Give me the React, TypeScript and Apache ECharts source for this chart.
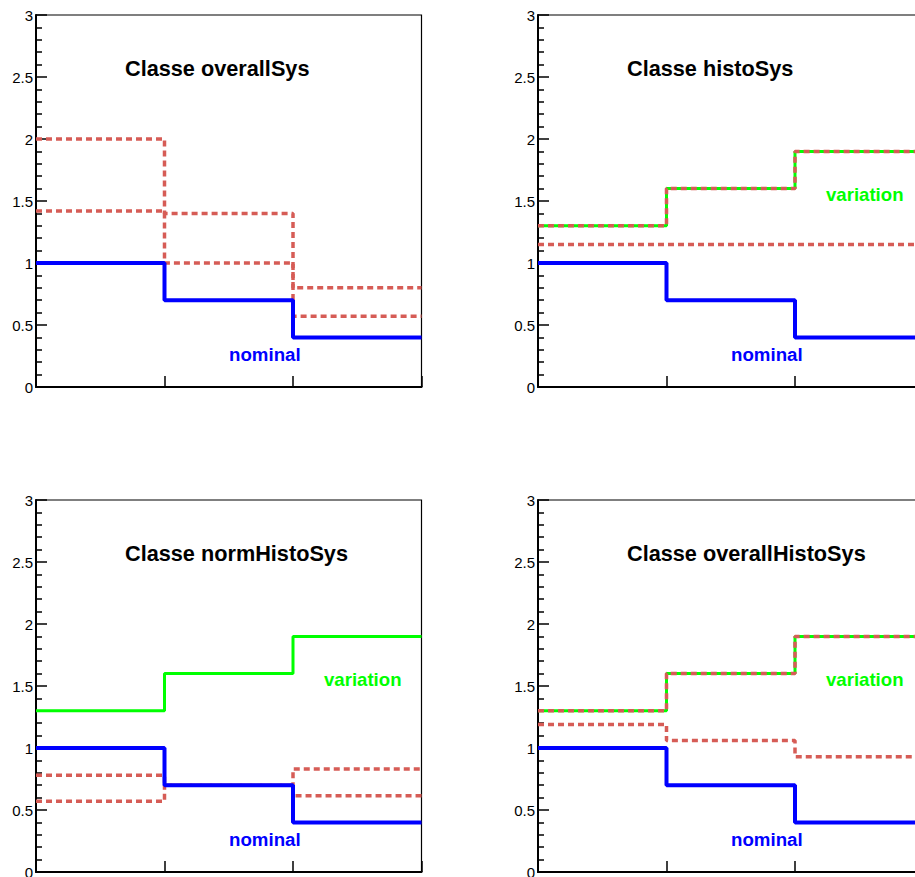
import React, { useEffect, useRef } from "react";
import * as echarts from "echarts";

const binEdges = [0, 1, 2, 3];
const yTicks = [0, 0.5, 1, 1.5, 2, 2.5, 3];
const nominal = [1.0, 0.7, 0.4];
const variation = [1.3, 1.6, 1.9];
const overallSysUp = [2.0, 1.4, 0.8];
const overallSysDown = [1.42, 1.0, 0.57];
const histoSysUp = [1.3, 1.6, 1.9];
const histoSysDown = [1.15, 1.15, 1.15];
const normHistoSysUp = [0.78, 0.7, 0.615];
const normHistoSysDown = [0.57, 0.7, 0.83];
const overallHistoSysUp = [1.3, 1.6, 1.9];
const overallHistoSysDown = [1.19, 1.06, 0.93];

const padTitles = ["Classe overallSys", "Classe histoSys", "Classe normHistoSys", "Classe overallHistoSys"];
const padHasVariation = [false, true, true, true];
const padDashed = [
  [overallSysUp, overallSysDown],
  [histoSysUp, histoSysDown],
  [normHistoSysUp, normHistoSysDown],
  [overallHistoSysUp, overallHistoSysDown],
];

const PADS = [
  { left: 36, top: 15 },
  { left: 538, top: 15 },
  { left: 36, top: 500 },
  { left: 538, top: 500 },
];
const W = 385.5;
const H = 372;
const CW = 915;
const CH = 877;

function hist(vals: number[]) {
  const pts: number[][] = vals.map((v, i) => [binEdges[i], v]);
  pts.push([binEdges[binEdges.length - 1], vals[vals.length - 1]]);
  return pts;
}

export default function App() {
  const ref = useRef<HTMLDivElement>(null);
  useEffect(() => {
    if (!ref.current) return;
    const chart = echarts.init(ref.current, null, { renderer: "svg" });
    const font = "'Liberation Sans', Arial, sans-serif";
    const grids: any[] = [];
    const xAxes: any[] = [];
    const yAxes: any[] = [];
    const series: any[] = [];
    const graphics: any[] = [];
    PADS.forEach((p, i) => {
      grids.push({
        left: p.left,
        top: p.top,
        right: CW - p.left - W,
        bottom: CH - p.top - H,
        containLabel: false,
        outerBoundsMode: "none",
        show: true,
        borderColor: "#000",
        borderWidth: 1.2,
        backgroundColor: "transparent",
      });
      xAxes.push({
        type: "value",
        gridIndex: i,
        min: binEdges[0],
        max: binEdges[binEdges.length - 1],
        interval: 1,
        axisLine: { show: true, onZero: false, lineStyle: { color: "#000", width: 2 } },
        axisTick: { show: true, inside: true, length: 11, lineStyle: { color: "#000", width: 1.5 } },
        axisLabel: { show: false },
        splitLine: { show: false },
      });
      yAxes.push({
        type: "value",
        gridIndex: i,
        min: yTicks[0],
        max: yTicks[yTicks.length - 1],
        interval: 0.5,
        axisLine: { show: true, onZero: false, lineStyle: { color: "#000", width: 2 } },
        axisTick: { show: true, inside: true, length: 11, lineStyle: { color: "#000", width: 1.5 } },
        minorTick: { show: true, splitNumber: 5, length: 6, lineStyle: { color: "#000", width: 1.5 } },
        axisLabel: {
          show: true,
          margin: 3,
          color: "#000",
          fontSize: 15,
          fontFamily: font,
          formatter: (v: number) => String(v),
        },
        splitLine: { show: false },
      });
      if (padHasVariation[i]) {
        series.push({
          type: "line",
          xAxisIndex: i,
          yAxisIndex: i,
          data: hist(variation),
          step: "end",
          symbol: "none",
          lineStyle: { color: "#00ff00", width: 3 },
          z: 2,
        });
      }
      padDashed[i].forEach((d) => {
        series.push({
          type: "line",
          xAxisIndex: i,
          yAxisIndex: i,
          data: hist(d),
          step: "end",
          symbol: "none",
          lineStyle: { color: "#d65c56", width: 3.5, type: [6, 4] },
          z: 3,
        });
      });
      series.push({
        type: "line",
        xAxisIndex: i,
        yAxisIndex: i,
        data: hist(nominal),
        step: "end",
        symbol: "none",
        lineStyle: { color: "#0000ff", width: 4 },
        z: 4,
      });
      graphics.push({
        type: "text",
        left: p.left + 89,
        top: p.top + 42,
        style: { text: padTitles[i], fill: "#000", font: `bold 21.7px ${font}` },
      });
      graphics.push({
        type: "text",
        left: p.left + 193,
        top: p.top + 330,
        style: { text: "nominal", fill: "#0000ff", font: `bold 18.7px ${font}` },
      });
      if (padHasVariation[i]) {
        graphics.push({
          type: "text",
          left: p.left + 288,
          top: p.top + 170,
          style: { text: "variation", fill: "#00ff00", font: `bold 18.6px ${font}` },
        });
      }
    });
    chart.setOption({
      animation: false,
      backgroundColor: "#fff",
      grid: grids,
      xAxis: xAxes,
      yAxis: yAxes,
      series,
      graphic: graphics,
    });
    return () => chart.dispose();
  }, []);
  return (
    <div
      ref={ref}
      style={{ position: "fixed", left: 0, top: 0, width: CW, height: CH }}
    />
  );
}
